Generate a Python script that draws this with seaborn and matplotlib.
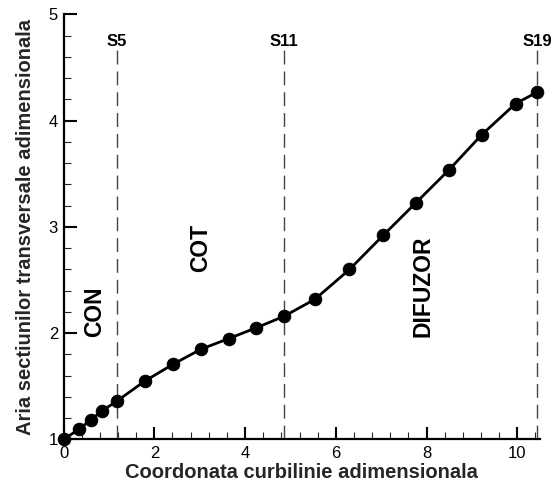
import matplotlib
matplotlib.use("Agg")
import matplotlib.pyplot as plt
from matplotlib.ticker import MultipleLocator
import numpy as np
import pandas as pd
import seaborn as sns

# Dimensionless curvilinear coordinate and cross-section area at stations S1..S19
station_s = [0.00, 0.35, 0.60, 0.85, 1.17,
             1.79, 2.42, 3.03, 3.64, 4.24, 4.86,
             5.54, 6.30, 7.04, 7.77, 8.50, 9.22, 9.96, 10.44]
area = [1.00, 1.10, 1.185, 1.27, 1.36,
        1.55, 1.71, 1.85, 1.95, 2.05, 2.16,
        2.32, 2.60, 2.92, 3.23, 3.54, 3.87, 4.16, 4.27]

# Section boundaries and region names
boundary_names = ["S5", "S11", "S19"]
boundary_s = [1.17, 4.86, 10.44]
region_names = ["CON", "COT", "DIFUZOR"]
region_x = [0.68, 3.02, 7.93]
region_y = [2.20, 2.80, 2.44]

sns.set_style("ticks")
plt.rcParams["font.family"] = ["Liberation Sans", "DejaVu Sans"]

df = pd.DataFrame({"s": station_s, "A": area})

fig = plt.figure(figsize=(5.55, 4.82), dpi=100)
ax = fig.add_axes([0.1146, 0.0882, 0.973 - 0.1146, 0.970 - 0.0882])

sns.lineplot(data=df, x="s", y="A", ax=ax, color="black", linewidth=2.0,
             marker="o", markersize=9, markeredgecolor="black",
             markerfacecolor="black", sort=False, clip_on=False, zorder=3)

for name, xb in zip(boundary_names, boundary_s):
    ax.plot([xb, xb], [1.0, 4.68], color="#444444", linewidth=1.0,
            dashes=(10, 5), zorder=2)
    ax.text(xb, 4.75, name, ha="center", va="center", fontsize=12,
            fontweight="bold", color="black")

for name, xr, yr in zip(region_names, region_x, region_y):
    ax.text(xr, yr, name, rotation=90, ha="center", va="center",
            fontsize=16.5, fontweight="bold", color="black")

ax.set_xlim(0, 10.5)
ax.set_ylim(1, 5)
ax.xaxis.set_major_locator(MultipleLocator(2))
ax.xaxis.set_minor_locator(MultipleLocator(0.4))
ax.yaxis.set_major_locator(MultipleLocator(1))
ax.yaxis.set_minor_locator(MultipleLocator(0.2))
ax.tick_params(which="major", direction="in", length=9, width=1.5,
               labelsize=12, colors="black")
ax.tick_params(axis="x", which="major", pad=5)
ax.tick_params(axis="y", which="major", pad=4)
ax.tick_params(which="minor", direction="in", length=5, width=0.8)

for side in ["top", "right"]:
    ax.spines[side].set_visible(False)
for side in ["left", "bottom"]:
    ax.spines[side].set_linewidth(1.6)
    ax.spines[side].set_color("black")

ax.set_xlabel("Coordonata curbilinie adimensionala", fontsize=14.5,
              fontweight="bold", labelpad=1)
ax.set_ylabel("Aria sectiunilor transversale adimensionala", fontsize=14.5,
              fontweight="bold", labelpad=10)

fig.savefig("out.png", dpi=100)
